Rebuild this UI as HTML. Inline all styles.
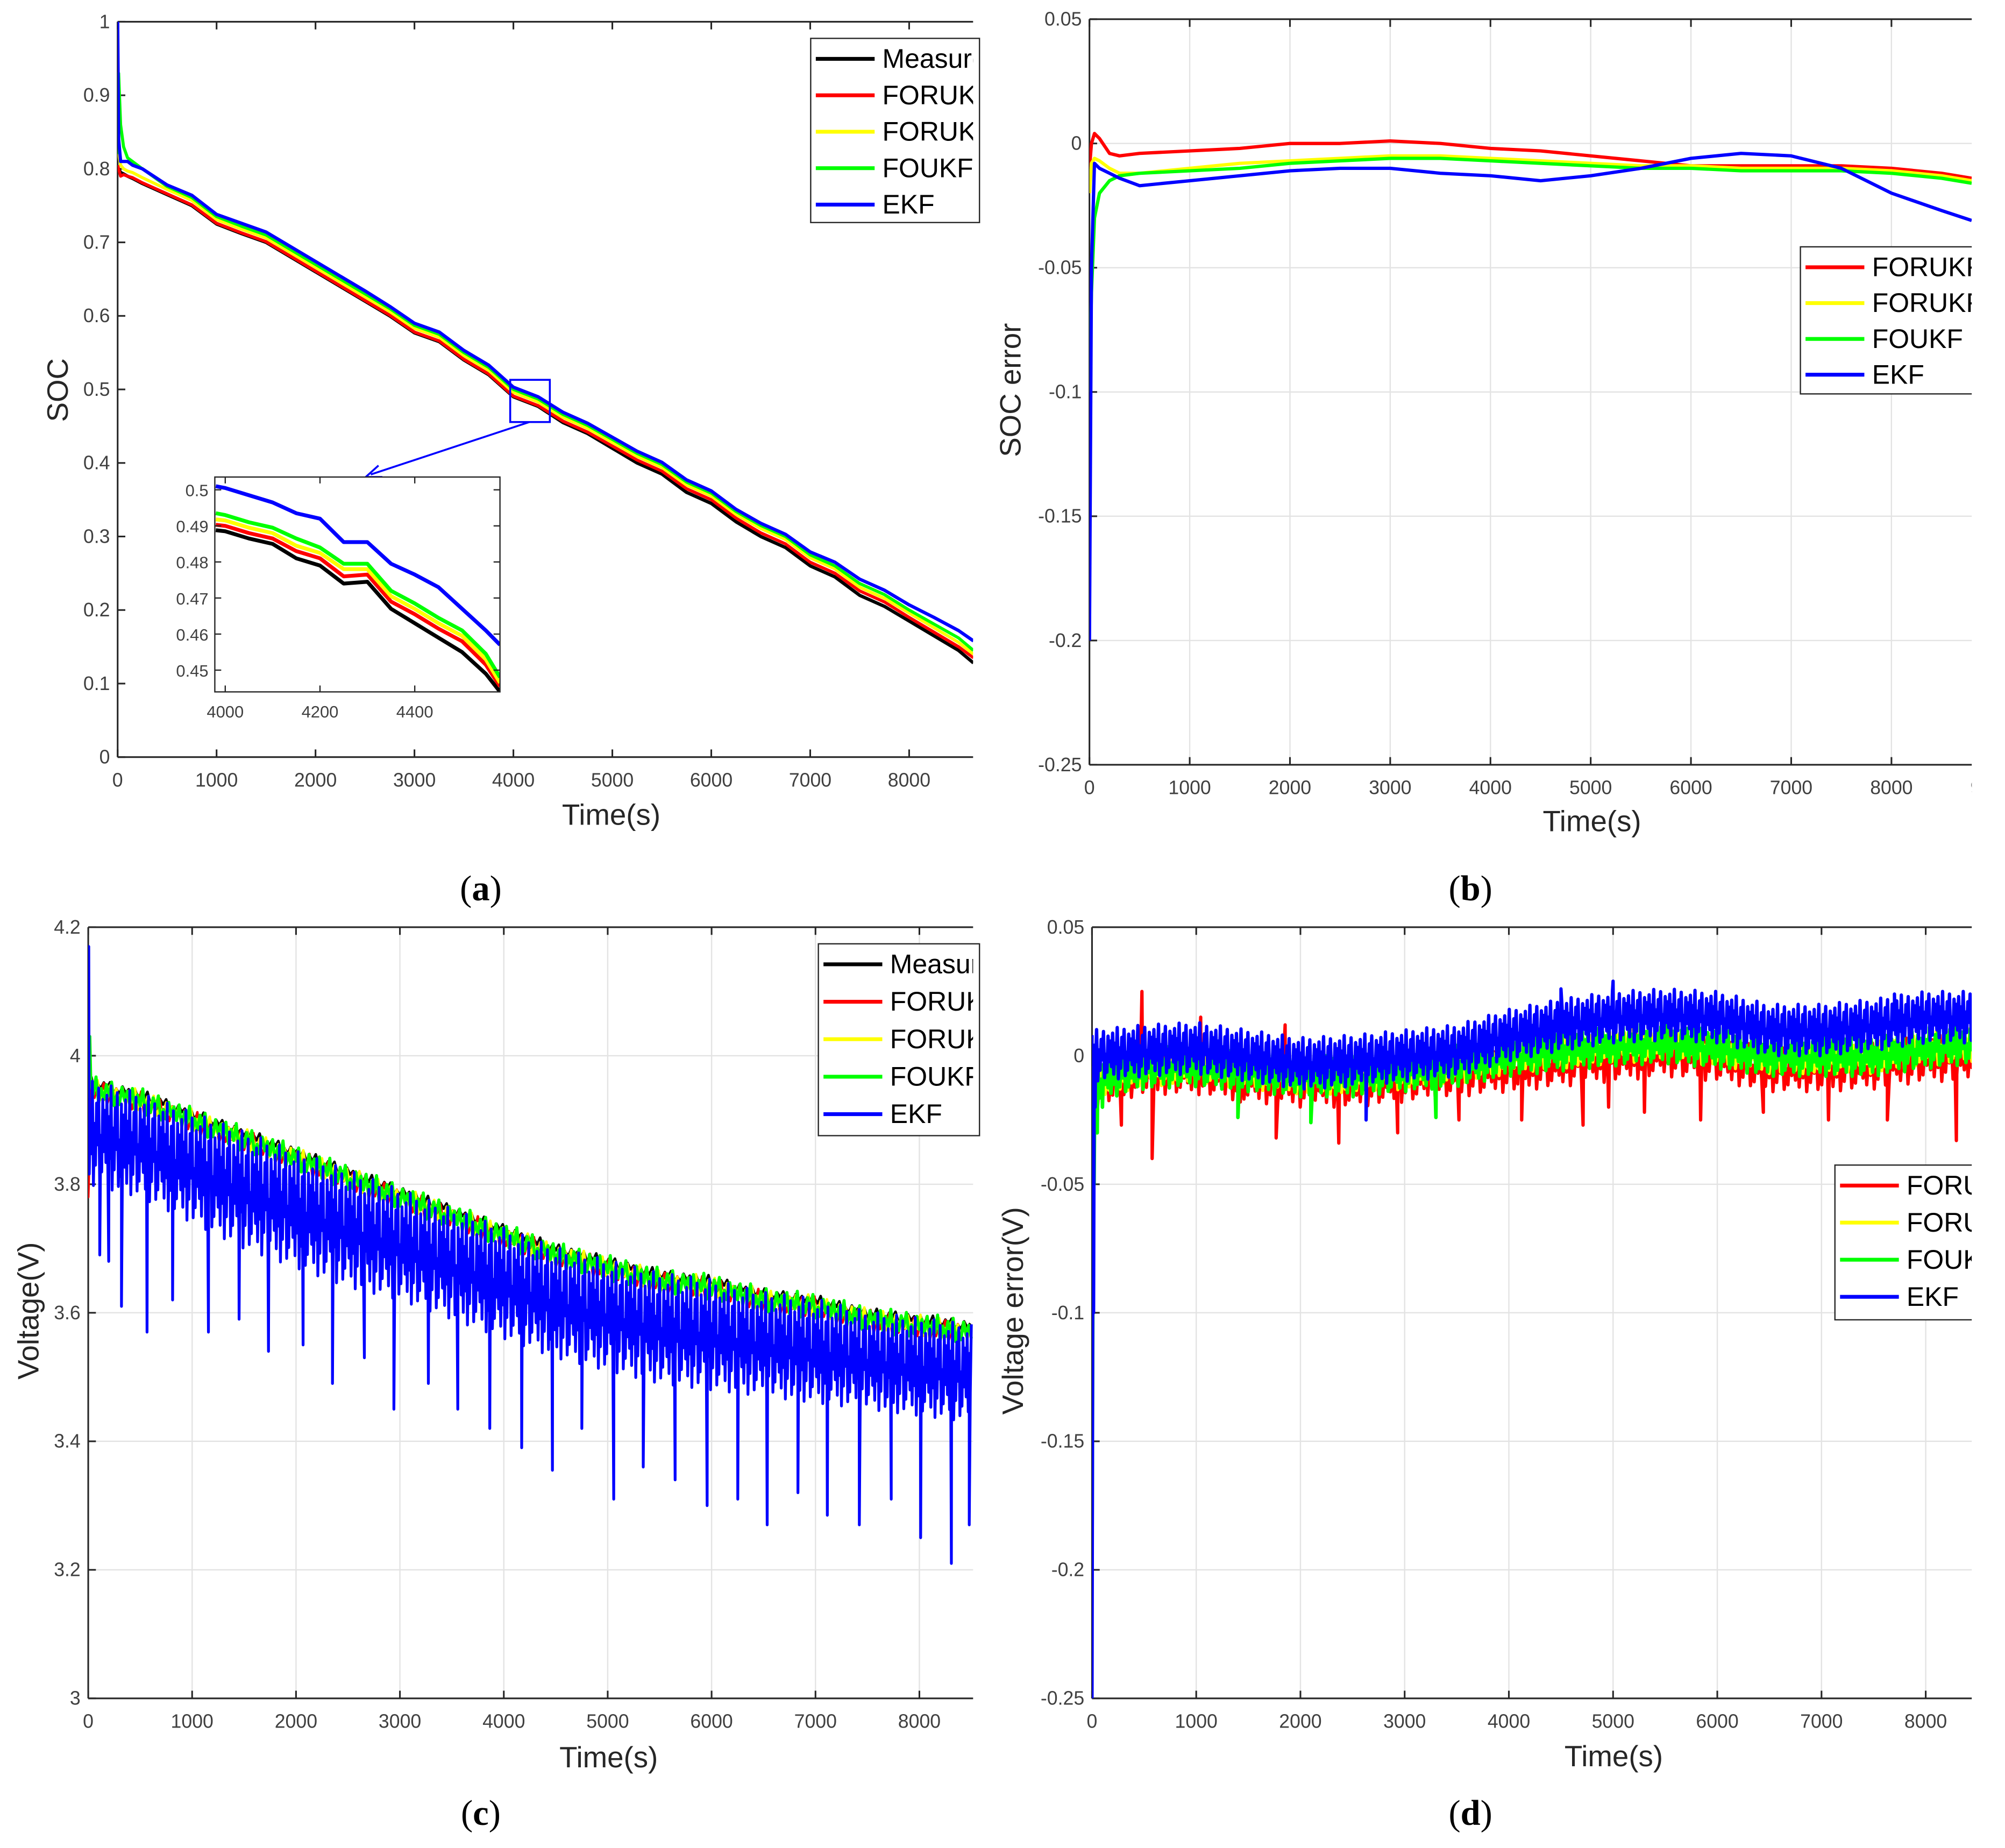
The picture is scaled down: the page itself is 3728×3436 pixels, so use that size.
<!DOCTYPE html>
<html><head><meta charset="utf-8"><style>
html,body{margin:0;padding:0;background:#fff;}
svg{display:block;}
</style></head><body>
<svg id="fig" xmlns="http://www.w3.org/2000/svg" width="3728" height="3436" viewBox="0 0 1568 1445" preserveAspectRatio="none" font-family="Liberation Sans, sans-serif">
<rect x="0" y="0" width="1568" height="1445" fill="#fff"/>
<text x="376" y="704" font-family="Liberation Serif, serif" font-size="28" text-anchor="middle">(<tspan font-weight="bold">a</tspan>)</text>
<text x="1150" y="704" font-family="Liberation Serif, serif" font-size="28" text-anchor="middle">(<tspan font-weight="bold">b</tspan>)</text>
<text x="376" y="1427" font-family="Liberation Serif, serif" font-size="28" text-anchor="middle">(<tspan font-weight="bold">c</tspan>)</text>
<text x="1150" y="1427" font-family="Liberation Serif, serif" font-size="28" text-anchor="middle">(<tspan font-weight="bold">d</tspan>)</text>
</svg>
<script>
// ---------- Panel A data ----------
const tA=[0,10,30,60,100,150,250,500,750,1000,1250,1500,1750,2000,2250,2500,2750,3000,3250,3500,3750,4000,4250,4500,4750,5000,5250,5500,5750,6000,6250,6500,6750,7000,7250,7500,7750,8000,8250,8500,8650];
const measA=[.80,.80,.795,.793,.79,.787,.78,.765,.75,.725,.712,.70,.68,.66,.64,.62,.60,.577,.565,.54,.52,.49,.477,.455,.44,.42,.40,.385,.36,.345,.32,.30,.285,.26,.245,.22,.205,.185,.165,.145,.128];
const redA=[.805,.80,.79,.792,.79,.788,.781,.766,.751,.726,.713,.701,.681,.661,.641,.621,.601,.578,.566,.541,.521,.491,.478,.457,.442,.423,.404,.389,.365,.35,.325,.305,.29,.265,.25,.226,.211,.19,.17,.15,.135];
const yelA=[.82,.82,.805,.80,.797,.795,.788,.772,.757,.731,.718,.706,.686,.666,.646,.626,.606,.583,.571,.546,.526,.496,.483,.462,.447,.428,.409,.394,.37,.355,.33,.311,.296,.271,.256,.231,.216,.196,.176,.156,.14];
const grnA=[.82,.93,.86,.83,.815,.81,.80,.776,.761,.735,.722,.71,.69,.67,.65,.63,.61,.587,.575,.55,.53,.5,.487,.466,.451,.432,.413,.398,.374,.359,.334,.315,.3,.275,.26,.236,.221,.2,.181,.162,.145];
const bluA=[1.0,.84,.81,.81,.81,.805,.80,.778,.764,.738,.726,.714,.694,.674,.654,.634,.613,.59,.578,.553,.533,.503,.49,.469,.454,.435,.416,.401,.377,.362,.337,.318,.303,.279,.265,.242,.227,.207,.19,.172,.158];
// inset
const tI=[3980,4000,4050,4100,4150,4200,4250,4300,4350,4400,4450,4500,4550,4580];
const measI=[.4888,.4885,.4865,.485,.481,.479,.474,.4745,.467,.463,.459,.455,.449,.444];
const redI=[.4903,.49,.488,.4865,.483,.481,.476,.4765,.469,.4655,.4615,.458,.4515,.4455];
const yelI=[.4918,.4915,.4895,.488,.4845,.4825,.478,.478,.4705,.467,.463,.4595,.453,.4465];
const grnI=[.4935,.493,.491,.4895,.4865,.484,.4795,.4795,.472,.4685,.4645,.461,.4545,.448];
const bluI=[.501,.5005,.4985,.4965,.4935,.492,.4855,.4855,.4795,.4765,.473,.467,.461,.457];
// ---------- Panel B data ----------
const tB=[0,20,50,100,200,300,500,1000,1500,2000,2500,3000,3500,4000,4500,5000,5500,6000,6500,7000,7500,8000,8500,8800];
const redB=[-0.01,0.0,0.004,0.002,-0.004,-0.005,-0.004,-0.003,-0.002,0,0,0.001,0,-0.002,-0.003,-0.005,-0.007,-0.009,-0.009,-0.009,-0.009,-0.01,-0.012,-0.014];
const yelB=[-0.02,-0.008,-0.006,-0.007,-0.01,-0.012,-0.012,-0.01,-0.008,-0.007,-0.006,-0.005,-0.005,-0.006,-0.007,-0.008,-0.009,-0.009,-0.01,-0.01,-0.01,-0.011,-0.013,-0.015];
const grnB=[-0.1,-0.06,-0.03,-0.02,-0.015,-0.013,-0.012,-0.011,-0.01,-0.008,-0.007,-0.006,-0.006,-0.007,-0.008,-0.009,-0.01,-0.01,-0.011,-0.011,-0.011,-0.012,-0.014,-0.016];
const bluB=[-0.2,-0.05,-0.008,-0.01,-0.012,-0.014,-0.017,-0.015,-0.013,-0.011,-0.01,-0.01,-0.012,-0.013,-0.015,-0.013,-0.01,-0.006,-0.004,-0.005,-0.01,-0.02,-0.027,-0.031];
// ---------- Panel C data ----------
const tC=[0,500,1000,1500,2000,2500,3000,3500,4000,4500,5000,5500,6000,6500,7000,7500,8000,8500];
const upperC=[3.97,3.95,3.92,3.89,3.86,3.83,3.80,3.77,3.74,3.71,3.69,3.67,3.66,3.64,3.63,3.61,3.60,3.59];
const lowerC=[3.80,3.78,3.74,3.70,3.67,3.64,3.62,3.59,3.56,3.53,3.51,3.49,3.48,3.47,3.46,3.45,3.44,3.43];
const spikeTC=[5,111,197,320,566,812,1157,1452,1735,2068,2351,2658,2942,3274,3557,3865,4172,4468,4751,5058,5342,5649,5957,6252,6535,6831,7114,7422,7729,8012,8308,8480];
const spikeVC=[4.17,3.69,3.68,3.61,3.57,3.62,3.57,3.59,3.54,3.55,3.49,3.53,3.45,3.49,3.45,3.42,3.39,3.355,3.42,3.31,3.36,3.34,3.30,3.31,3.27,3.32,3.285,3.27,3.31,3.25,3.21,3.27];
// ---------- Panel D data ----------
const tD=[0,500,1000,1500,2000,2500,3000,3500,4000,4500,5000,5500,6000,6500,7000,7500,8000,8500];
const bluD=[0,0.002,0.003,0,-0.003,-0.002,0,0.002,0.008,0.012,0.015,0.016,0.015,0.01,0.01,0.012,0.015,0.015];
const grnD=[-0.01,-0.005,-0.004,-0.006,-0.008,-0.008,-0.006,-0.004,0,0.002,0.004,0.005,0.003,0,0,0,0.003,0.005];
const redD=[-0.01,-0.005,-0.005,-0.008,-0.01,-0.01,-0.008,-0.006,-0.004,-0.002,0,0.002,0,-0.004,-0.004,-0.003,0,0];
const spikeTRedD=[282,479,577,1043,1423,1767,1853,2368,2933,3521,4123,4712,4957,5301,5840,6442,7067,7632,8294];
const spikeVRedD=[-0.027,0.025,-0.04,0.015,-0.018,-0.032,0.012,-0.034,-0.03,-0.025,-0.025,-0.027,-0.02,-0.022,-0.025,-0.022,-0.025,-0.025,-0.033];
const spikeTBluD=[0,15,30,2630,4500,5000,7700];
const spikeVBluD=[-0.25,-0.1,-0.02,-0.025,0.026,0.029,0.024];
const spikeTGrnD=[0,20,50,100,1400,2100,3300];
const spikeVGrnD=[-0.2,-0.05,-0.03,-0.02,-0.024,-0.026,-0.024];
const jit=[0.9,0.1,0.7,0.3,1,0,0.6,0.2,0.8,0.4,0.95,0.05,0.5,0.15,0.85,0.35,0.75,0.25];
const legA=['Measured','FORUKF-1','FORUKF-2','FOUKF','EKF'];
const legB=['FORUKF-1','FORUKF-2','FOUKF','EKF'];

const NS='http://www.w3.org/2000/svg';
const svg=document.getElementById('fig');
function mk(tag,attrs,parent,name){
  const e=document.createElementNS(NS,tag);
  for(const k in attrs) e.setAttribute(k,attrs[k]);
  
  
  parent.appendChild(e);
  return e;
}
function txt(s,attrs,parent,name){const e=mk('text',attrs,parent,name);e.textContent=s;return e;}
function interp(ts,vs,t){
  if(t<=ts[0])return vs[0];
  for(let i=1;i<ts.length;i++){if(t<=ts[i]){const f=(t-ts[i-1])/(ts[i]-ts[i-1]);return vs[i-1]+f*(vs[i]-vs[i-1]);}}
  return vs[vs.length-1];
}
function line(ts,vs,X,Y,g,color,w,name){
  const d=ts.map((t,i)=>(i?'L':'M')+X(t).toFixed(2)+','+Y(vs[i]).toFixed(2)).join('');
  return mk('path',{d:d,fill:'none',stroke:color,'stroke-width':w,'stroke-linejoin':'round'},g,name);
}
function band(loF,hiF,tEnd,dt,spT,spV,X,Y,g,color,w,name,phase){
  const pts=[];
  for(let t=0,i=0;t<=tEnd;t+=dt,i++){const lo=loF(t),hi=hiF(t);pts.push([t,lo+(hi-lo)*jit[(i+phase)%jit.length]]);}
  spT.forEach((t,i)=>pts.push([t,spV[i]]));
  pts.sort((a,b)=>a[0]-b[0]);
  return line(pts.map(p=>p[0]),pts.map(p=>p[1]),X,Y,g,color,w,name);
}
function axes(o){
  const g=mk('g',{},svg,o.name);
  const clipId=o.name+'-clip';
  const cp=mk('clipPath',{id:clipId},g,o.name+'-clip-path');
  mk('rect',{x:o.x0,y:o.y0,width:o.x1-o.x0,height:o.y1-o.y0},cp,'clip-rect');
  if(o.grid){
    o.xt.forEach(t=>mk('line',{x1:o.X(t),x2:o.X(t),y1:o.y0,y2:o.y1,stroke:'#e3e3e3','stroke-width':1},g,'x-grid-line'));
    o.yt.forEach(v=>mk('line',{x1:o.x0,x2:o.x1,y1:o.Y(v),y2:o.Y(v),stroke:'#e3e3e3','stroke-width':1},g,'y-grid-line'));
  }
  const ax=mk('g',{stroke:'#262626','stroke-width':1.3},g,'axis-lines');
  mk('line',{x1:o.x0,x2:o.x0,y1:o.y0,y2:o.y1},ax,'y-axis-line');
  mk('line',{x1:o.x0,x2:o.x1,y1:o.y1,y2:o.y1},ax,'x-axis-line');
  mk('line',{x1:o.x0,x2:o.x1,y1:o.y0,y2:o.y0},ax,'top-border');
  o.xt.forEach((t,i)=>{
    mk('line',{x1:o.X(t),x2:o.X(t),y1:o.y1,y2:o.y1-6},ax,'x-tick');
    mk('line',{x1:o.X(t),x2:o.X(t),y1:o.y0,y2:o.y0+6},ax,'x-tick-top');
    txt(o.xl[i],{x:o.X(t),y:o.y1+23,'font-size':15,fill:'#404040','text-anchor':'middle'},g,'x-tick-label');
  });
  o.yt.forEach((v,i)=>{
    mk('line',{x1:o.x0,x2:o.x0+6,y1:o.Y(v),y2:o.Y(v)},ax,'y-tick');
    txt(o.yl[i],{x:o.x0-6,y:o.Y(v)+5,'font-size':15,fill:'#404040','text-anchor':'end'},g,'y-tick-label');
  });
  txt('Time(s)',{x:o.xlx,y:o.xly,'font-size':23,fill:'#262626','text-anchor':'middle'},g,'x-axis-title');
  txt(o.ylab,{x:0,y:0,'font-size':23,fill:'#262626','text-anchor':'middle',transform:'translate('+o.ylx+','+o.yly+') rotate(-90)'},g,'y-axis-title');
  const plot=mk('g',{'clip-path':'url(#'+clipId+')'},g,'plot-area');
  return {g,plot};
}
function legend(parent,x,y,w,h,entries,colors,dy,name){
  const g=mk('g',{},parent,name);
  const cid=name+'-clip';
  const cp=mk('clipPath',{id:cid},g,name+'-clip-path');
  mk('rect',{x:x,y:y,width:w,height:h},cp,'clip-rect');
  mk('rect',{x:x,y:y,width:w+5,height:h,fill:'#fff',stroke:'#262626','stroke-width':1},g,'legend-box');
  const gg=mk('g',{'clip-path':'url(#'+cid+')'},g,'legend-entries');
  entries.forEach((s,i)=>{
    const yy=y+16+i*dy;
    mk('line',{x1:x+4,x2:x+50,y1:yy,y2:yy,stroke:colors[i],'stroke-width':3},gg,'legend-swatch');
    txt(s,{x:x+56,y:yy+7,'font-size':21,fill:'#000'},gg,'legend-entry');
  });
}
const range=(a,b,s)=>{const r=[];for(let v=a;v<=b+1e-9;v+=s)r.push(+v.toFixed(4));return r;};
const xt8=range(0,8000,1000);
const COL={k:'#000',r:'#ff0000',y:'#ffff00',g:'#00ff00',b:'#0000ff'};

// ---------- Panel A ----------
{
const X=t=>92+t*0.077375, Y=v=>592-v*575;
const yt=range(0,1,0.1);
const A=axes({name:'panel-a',x0:92,x1:761,y0:17,y1:592,X,Y,xt:xt8,xl:xt8.map(String),yt,yl:yt.map(v=>String(v)),grid:false,xlx:478,xly:645,ylab:'SOC',ylx:53,yly:305});
line(tA,measA,X,Y,A.plot,COL.k,2.6,'series-measured');
line(tA,redA,X,Y,A.plot,COL.r,2.4,'series-foruk-1');
line(tA,yelA,X,Y,A.plot,COL.y,2.4,'series-foruk-2');
line(tA,grnA,X,Y,A.plot,COL.g,2.4,'series-foukf');
line(tA,bluA,X,Y,A.plot,COL.b,2.6,'series-ekf');
mk('rect',{x:399,y:297,width:31,height:33,fill:'none',stroke:'#0000ff','stroke-width':1.5},A.g,'zoom-box');
mk('line',{x1:414,y1:330,x2:290,y2:371,stroke:'#0000ff','stroke-width':1.5},A.g,'zoom-arrow');
mk('path',{d:'M286,373 L296,364 M286,373 L299,373',stroke:'#0000ff','stroke-width':1.5,fill:'none'},A.g,'zoom-arrowhead');
// inset
const XI=t=>168+(t-3978)*0.3705, YI=v=>383+(0.5-v)*2820;
mk('rect',{x:168,y:373,width:223,height:168,fill:'#fff'},A.g,'inset-background');
const ig=mk('g',{},A.g,'inset');
const icp=mk('clipPath',{id:'inset-clip'},ig,'inset-clip-path');
mk('rect',{x:168,y:373,width:223,height:168},icp,'clip-rect');
const ip=mk('g',{'clip-path':'url(#inset-clip)'},ig,'inset-plot');
line(tI,measI,XI,YI,ip,COL.k,3,'inset-measured');
line(tI,redI,XI,YI,ip,COL.r,3,'inset-foruk-1');
line(tI,yelI,XI,YI,ip,COL.y,3,'inset-foruk-2');
line(tI,grnI,XI,YI,ip,COL.g,3,'inset-foukf');
line(tI,bluI,XI,YI,ip,COL.b,3,'inset-ekf');
mk('rect',{x:168,y:373,width:223,height:168,fill:'none',stroke:'#262626','stroke-width':1},ig,'inset-border');
[4000,4200,4400].forEach(t=>{
  mk('line',{x1:XI(t),x2:XI(t),y1:541,y2:536,stroke:'#262626'},ig,'inset-x-tick');
  mk('line',{x1:XI(t),x2:XI(t),y1:373,y2:378,stroke:'#262626'},ig,'inset-x-tick-top');
  txt(String(t),{x:XI(t),y:561,'font-size':13,fill:'#404040','text-anchor':'middle'},ig,'inset-x-tick-label');
});
[0.45,0.46,0.47,0.48,0.49,0.5].forEach(v=>{
  mk('line',{x1:168,x2:173,y1:YI(v),y2:YI(v),stroke:'#262626'},ig,'inset-y-tick');
  mk('line',{x1:391,x2:386,y1:YI(v),y2:YI(v),stroke:'#262626'},ig,'inset-y-tick-right');
  txt(String(v),{x:163,y:YI(v)+5,'font-size':13,fill:'#404040','text-anchor':'end'},ig,'inset-y-tick-label');
});
legend(A.g,634,30,127,144,legA,[COL.k,COL.r,COL.y,COL.g,COL.b],28.5,'legend-a');
}
// ---------- Panel B ----------
{
const X=t=>852+t*0.0784, Y=v=>15+(0.05-v)*1943.3;
const yt=[-0.25,-0.2,-0.15,-0.1,-0.05,0,0.05];
const xt=range(0,9000,1000);
const B=axes({name:'panel-b',x0:852,x1:1568,y0:15,y1:598,X,Y,xt,xl:xt.map(String),yt,yl:yt.map(String),grid:true,xlx:1245,xly:650,ylab:'SOC error',ylx:798,yly:305});
line(tB,redB,X,Y,B.plot,COL.r,2.6,'series-foruk-1');
line(tB,yelB,X,Y,B.plot,COL.y,2.6,'series-foruk-2');
line(tB,grnB,X,Y,B.plot,COL.g,2.6,'series-foukf');
line(tB,bluB,X,Y,B.plot,COL.b,2.6,'series-ekf');
legend(B.g,1408,193,134,115,legB,[COL.r,COL.y,COL.g,COL.b],28,'legend-b');
}
// ---------- Panel C ----------
{
const X=t=>69+t*0.08125, Y=v=>725+(4.2-v)*502.5;
const yt=[3,3.2,3.4,3.6,3.8,4,4.2];
const C=axes({name:'panel-c',x0:69,x1:761,y0:725,y1:1328,X,Y,xt:xt8,xl:xt8.map(String),yt,yl:yt.map(String),grid:true,xlx:476,xly:1382,ylab:'Voltage(V)',ylx:30,yly:1025});
const up=t=>interp(tC,upperC,t), lo=t=>interp(tC,lowerC,t);
band(t=>up(t)-0.02,t=>up(t)-0.002,8500,30,[0],[3.93],X,Y,C.plot,COL.k,2,'series-measured',3);
band(t=>up(t)-0.04,t=>up(t)-0.005,8500,30,[0],[3.78],X,Y,C.plot,COL.r,2,'series-foruk-1',5);
band(t=>up(t)-0.035,t=>up(t)-0.003,8500,30,[10],[4.0],X,Y,C.plot,COL.y,2,'series-foruk-2',7);
band(t=>up(t)-0.04,t=>up(t),8500,25,[15],[4.03],X,Y,C.plot,COL.g,2.4,'series-foukf',1);
band(lo,t=>up(t)-0.008,8500,10,spikeTC,spikeVC,X,Y,C.plot,COL.b,2.2,'series-ekf',0);
legend(C.g,640,738,121,150,legA,[COL.k,COL.r,COL.y,COL.g,COL.b],29.3,'legend-c');
}
// ---------- Panel D ----------
{
const X=t=>854+t*0.0815, Y=v=>725+(0.05-v)*2010;
const yt=[-0.25,-0.2,-0.15,-0.1,-0.05,0,0.05];
const D=axes({name:'panel-d',x0:854,x1:1568,y0:725,y1:1328,X,Y,xt:xt8,xl:xt8.map(String),yt,yl:yt.map(String),grid:true,xlx:1262,xly:1381,ylab:'Voltage error(V)',ylx:800,yly:1025});
band(t=>interp(tD,redD,t)-0.01,t=>interp(tD,redD,t)+0.008,8500,18,spikeTRedD,spikeVRedD,X,Y,D.plot,COL.r,2.6,'series-foruk-1',2);
band(t=>interp(tD,grnD,t)-0.007,t=>interp(tD,grnD,t)+0.006,8500,18,[0,20],[-0.18,-0.03],X,Y,D.plot,COL.y,2.4,'series-foruk-2',4);
band(t=>interp(tD,grnD,t)-0.008,t=>interp(tD,grnD,t)+0.008,8500,14,spikeTGrnD,spikeVGrnD,X,Y,D.plot,COL.g,2.8,'series-foukf',6);
band(t=>interp(tD,bluD,t)-0.01,t=>interp(tD,bluD,t)+0.01,8500,11,spikeTBluD,spikeVBluD,X,Y,D.plot,COL.b,2.6,'series-ekf',0);
legend(D.g,1435,911,107,121,legB,[COL.r,COL.y,COL.g,COL.b],29,'legend-d');
}
// right-edge crop mask (reference image content ends at x≈1542)
mk('rect',{x:1542,y:0,width:26,height:1445,fill:'#fff'},svg,'right-edge-mask');
</script>
</body></html>
